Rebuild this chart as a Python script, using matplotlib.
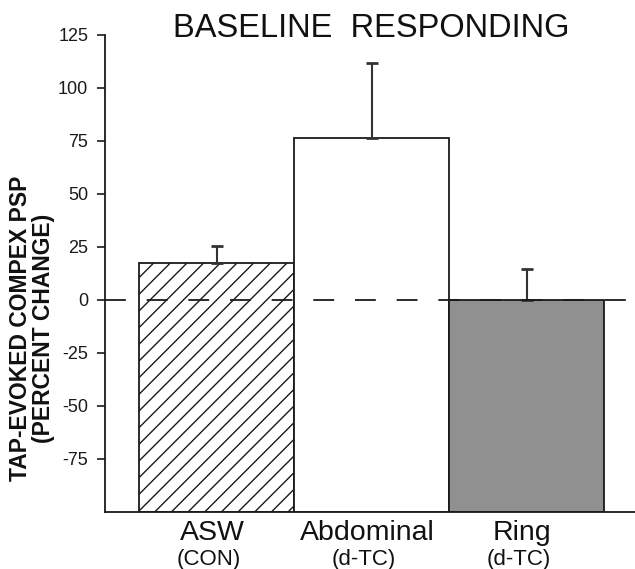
import matplotlib
matplotlib.use("Agg")
import matplotlib.pyplot as plt

# data
groups = ["ASW", "Abdominal", "Ring"]
subgroups = ["(CON)", "(d-TC)", "(d-TC)"]
values = [17.3, 76.2, 0.0]
errors = [7.9, 35.5, 14.7]
baseline = -100

plt.rcParams["font.family"] = ["Liberation Sans", "DejaVu Sans"]
plt.rcParams["axes.unicode_minus"] = False
plt.rcParams["hatch.linewidth"] = 1.0
plt.rcParams["hatch.color"] = "#222222"

fig = plt.figure(figsize=(6.35, 5.69), dpi=100)
ax = fig.add_axes([0.1654, 0.1007, 0.8346, 0.8378])

x = list(range(len(groups)))
heights = [v - baseline for v in values]
bars = ax.bar(x, heights, bottom=baseline, width=1.0,
              color=["white", "white", "#909090"],
              edgecolor="#1a1a1a", linewidth=1.3, zorder=2)
bars[0].set_hatch("//")

ax.errorbar(x, values, yerr=[[0] * len(errors), errors], fmt="none",
            ecolor="#333333", elinewidth=1.5, capsize=4, capthick=2.0, zorder=3)

# dashed zero line
zero = ax.axhline(0, color="#1a1a1a", linewidth=1.3, zorder=4)
zero.set_dashes([15 / 1.3, 15 / 1.3])

ax.set_xlim(-0.72, 2.7)
ax.set_ylim(-100, 125)
ax.set_yticks(list(range(-75, 126, 25)))
ax.tick_params(axis="y", direction="out", length=6, width=1.2, pad=6,
               labelsize=13, colors="#1a1a1a")
ax.set_xticks([])
for s in ["top", "right"]:
    ax.spines[s].set_visible(False)
for s in ["left", "bottom"]:
    ax.spines[s].set_linewidth(1.3)
    ax.spines[s].set_color("#1a1a1a")

for xi, g, sg in zip(x, groups, subgroups):
    ax.text(xi - 0.03, -0.059, g, transform=ax.get_xaxis_transform(),
            ha="center", va="baseline", fontsize=20.5, color="#111111")
    ax.text(xi - 0.05, -0.111, sg, transform=ax.get_xaxis_transform(),
            ha="center", va="baseline", fontsize=16, color="#111111")

fig.text(0.584, 1 - 37 / 569, "BASELINE  RESPONDING", ha="center",
         va="baseline", fontsize=23.5, color="#111111")
fig.text(32 / 635, 1 - 328 / 569, "TAP-EVOKED COMPEX PSP\n(PERCENT CHANGE)",
         rotation=90, ha="center", va="center", multialignment="center",
         fontsize=16.5, fontweight="bold", color="#111111", linespacing=1.0)

fig.savefig("out.png", dpi=100)
